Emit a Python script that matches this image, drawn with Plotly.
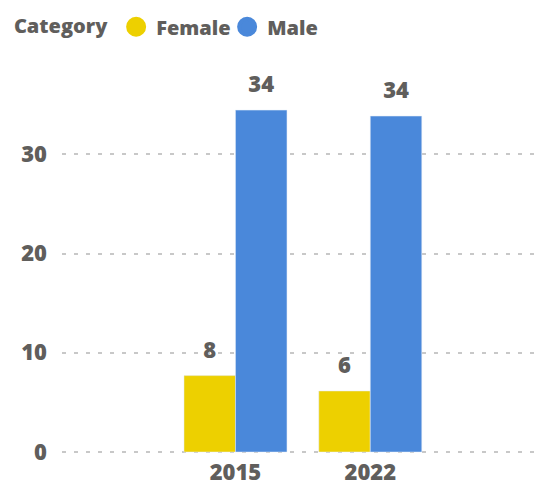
import plotly.graph_objects as go

years = ["2015", "2022"]
female = [7.7, 6.15]
male = [34.45, 33.85]
series_names = ["Female", "Male"]
colors = ["#EDD000", "#4A88DA"]
y_ticks = [0, 10, 20, 30]

GRAY = "#605E5C"
FONT = "Open Sans"
W = 800

fig = go.Figure()
for name, vals, col in zip(series_names, [female, male], colors):
    fig.add_trace(go.Bar(x=years, y=vals, name=name, marker_color=col,
                         showlegend=False, hoverinfo="skip"))
for name, vals, col in zip(series_names, [female, male], colors):
    fig.add_trace(go.Scatter(x=years, y=vals, mode="markers+text",
                             texttemplate="%{y:.0f}", textposition="top center",
                             marker=dict(size=18, opacity=0),
                             textfont=dict(family=FONT, size=22, color=GRAY, weight=W),
                             showlegend=False, hoverinfo="skip", cliponaxis=False))
for name, col in zip(series_names, colors):
    fig.add_trace(go.Scatter(x=[None], y=[None], mode="markers", name=name,
                             xaxis="x2", yaxis="y2",
                             marker=dict(size=16, color=col, symbol="circle",
                                         line=dict(color=col, width=4))))

fig.update_layout(
    width=540, height=483,
    margin=dict(l=62, r=5, t=60, b=29, autoexpand=False),
    paper_bgcolor="white", plot_bgcolor="white",
    barmode="group", bargap=0.236, bargroupgap=0,
    scattermode="group", scattergap=0.236,
    font=dict(family=FONT, color=GRAY),
    legend=dict(orientation="h", xref="container", yref="container",
                x=0.022, y=0.985, xanchor="left", yanchor="top",
                title=dict(text="Category", font=dict(size=20, weight=W, color=GRAY)),
                font=dict(size=20, weight=W, color=GRAY),
                itemwidth=30, tracegroupgap=0, entrywidth=66),
    xaxis=dict(type="category", range=[-1.287, 2.222], showgrid=False,
               zeroline=False, showline=False, ticks="", automargin=False,
               ticklabelstandoff=3,
               tickfont=dict(family=FONT, size=22, color=GRAY, weight=W)),
    yaxis=dict(range=[-0.2, 39.5], tickvals=y_ticks, showgrid=True,
               gridcolor="#C8C8C8", gridwidth=2, griddash="4px,8px",
               zeroline=False, showline=False, ticks="", ticklabelstandoff=14,
               automargin=False,
               tickfont=dict(family=FONT, size=22, color=GRAY, weight=W)),
    xaxis2=dict(overlaying="x", visible=False),
    yaxis2=dict(overlaying="y", visible=False),
)

fig.write_html("out.html", config={"displayModeBar": False},
               post_script="document.body.style.margin='0';document.body.style.overflow='hidden';")
